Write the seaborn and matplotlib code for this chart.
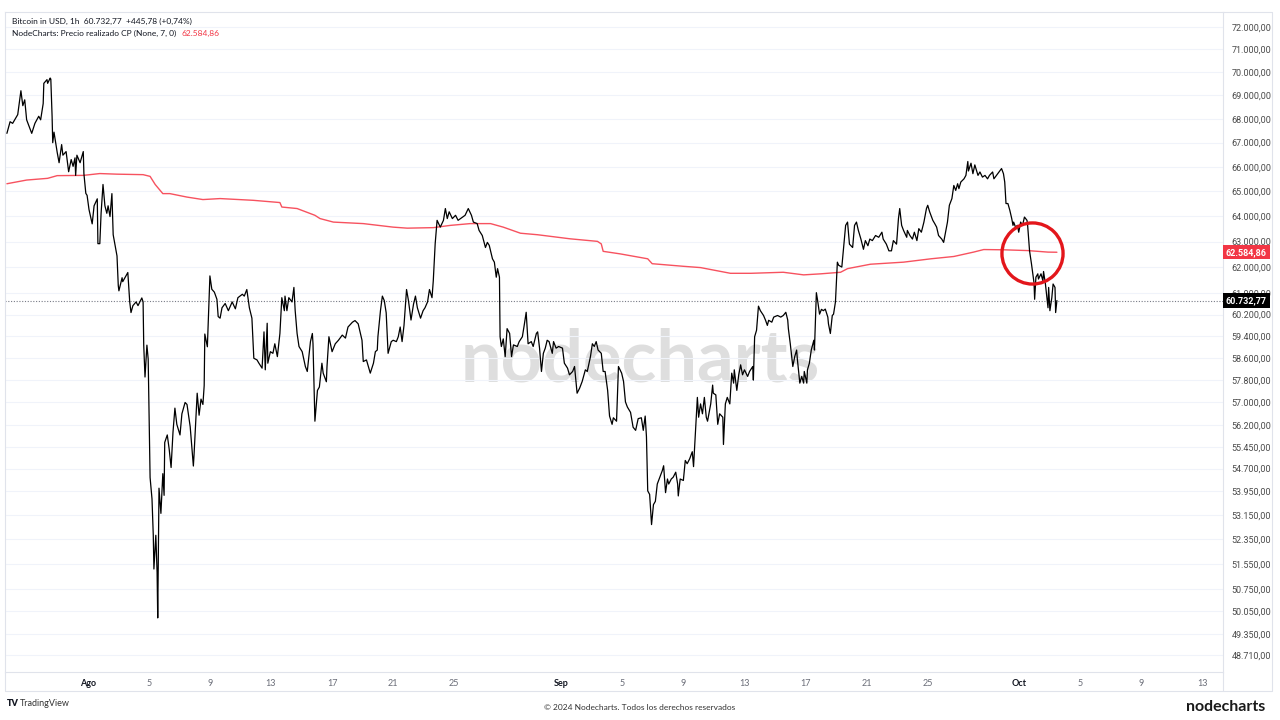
import pandas as pd
import matplotlib
matplotlib.use("Agg")
import matplotlib.pyplot as plt
import matplotlib.transforms as mtransforms
from matplotlib.lines import Line2D
from matplotlib.ticker import FixedLocator, NullLocator, FuncFormatter
import seaborn as sns

# ================================
# DATA (BTC/USD 1h)
# ================================
start = pd.Timestamp("2024-07-26 17:00")

btc_hours = [
    0, 5, 9, 17, 22, 25, 28, 31, 39, 44,
    50, 53, 57, 58, 63, 64, 68, 69, 71, 72,
    74, 79, 82, 86, 88, 93, 96, 97, 101, 104,
    107, 108, 110, 115, 120, 121, 124, 126, 129, 134,
    137, 142, 143, 146, 148, 151, 154, 157, 159, 162,
    165, 167, 173, 175, 176, 181, 182, 190, 193, 195,
    198, 203, 206, 212, 214, 215, 217, 220, 222, 225,
    228, 230, 231, 234, 236, 237, 239, 242, 245, 247,
    248, 252, 255, 258, 261, 264, 267, 272, 275, 280,
    283, 288, 293, 294, 299, 302, 305, 308, 310, 311,
    315, 319, 322, 326, 330, 332, 335, 338, 343, 348,
    354, 359, 363, 370, 373, 377, 381, 385, 388, 393,
    396, 401, 404, 406, 409, 410, 414, 418, 421, 425,
    429, 432, 436, 437, 440, 443, 448, 451, 453, 456,
    459, 464, 469, 472, 477, 480, 481, 484, 488, 491,
    495, 497, 502, 503, 506, 511, 516, 521, 527, 532,
    536, 543, 547, 552, 558, 560, 565, 568, 571, 576,
    579, 582, 583, 587, 590, 593, 596, 599, 604, 607,
    612, 615, 618, 621, 624, 628, 631, 635, 639, 642,
    645, 650, 654, 657, 661, 664, 668, 670, 673, 676,
    681, 686, 689, 692, 695, 700, 705, 709, 716, 720,
    725, 730, 733, 739, 742, 747, 752, 755, 758, 763,
    766, 769, 771, 774, 775, 777, 780, 783, 786, 790,
    793, 796, 802, 805, 810, 813, 816, 819, 824, 827,
    832, 834, 837, 840, 843, 846, 849, 852, 857, 859,
    863, 867, 873, 876, 881, 884, 889, 892, 896, 900,
    904, 909, 912, 917, 920, 923, 926, 929, 934, 937,
    940, 944, 947, 951, 953, 958, 961, 966, 969, 972,
    975, 980, 984, 988, 992, 997, 1000, 1003, 1005, 1007,
    1010, 1013, 1016, 1019, 1022, 1025, 1030, 1032, 1035, 1038,
    1040, 1044, 1047, 1051, 1054, 1055, 1058, 1063, 1066, 1069,
    1073, 1077, 1079, 1082, 1085, 1087, 1090, 1093, 1096, 1099,
    1101, 1106, 1109, 1110, 1114, 1117, 1120, 1125, 1126, 1129,
    1132, 1136, 1139, 1142, 1143, 1147, 1150, 1153, 1156, 1159,
    1164, 1167, 1172, 1173, 1175, 1178, 1181, 1184, 1189, 1192,
    1195, 1197, 1202, 1205, 1211, 1216, 1220, 1224, 1227, 1228,
    1231, 1235, 1238, 1241, 1242, 1246, 1249, 1252, 1253, 1257,
    1258, 1261, 1264, 1268, 1269, 1272, 1274, 1277, 1280, 1283,
    1286, 1290, 1291, 1294, 1297, 1299, 1302, 1305, 1307, 1312,
    1315, 1318, 1321, 1324, 1329, 1332, 1335, 1338, 1342, 1346,
    1349, 1353, 1356, 1360, 1365, 1370, 1375, 1377, 1382, 1386,
    1390, 1393, 1398, 1401, 1403, 1406, 1409, 1414, 1415, 1419,
    1423, 1426, 1430, 1433, 1437, 1441, 1445, 1447, 1450, 1455,
    1458, 1461, 1464, 1469, 1472, 1475, 1478, 1481, 1485, 1488,
    1491, 1494, 1496, 1499, 1504, 1507, 1510, 1511, 1515, 1518,
    1521, 1526, 1529, 1533, 1537, 1541, 1544, 1549, 1551, 1555,
    1559, 1563, 1566, 1568, 1570, 1573, 1576, 1579, 1581, 1582,
    1585, 1588, 1590, 1593, 1596, 1599, 1603, 1604, 1607, 1610,
    1614, 1615, 1617, 1620, 1621, 1625, 1628, 1629, 1632, 1636,
    1637, 1639, 1642, 1644, 1647, 1648, 1650,
]

btc_price = [
    67390, 67880, 67810, 68180, 69200, 68560, 68810, 67960, 67390, 67810,
    68110, 67960, 68650, 69520, 69680, 69520, 69750, 69700, 68110, 67000,
    67440, 66600, 66170, 66920, 66480, 66630, 66020, 65800, 66300, 66020,
    66370, 65650, 66480, 66170, 66630, 65720, 64920, 64840, 64270, 63700,
    64420, 64700, 62920, 62920, 64120, 65280, 64420, 64120, 64420, 63990,
    64910, 63270, 62440, 61300, 61100, 61600, 61450, 61800, 60680, 60280,
    60540, 60680, 60540, 60830, 60680, 59070, 57910, 59070, 58560, 54400,
    53680, 52480, 51390, 52480, 51290, 49850, 54040, 53200, 54530, 53800,
    55600, 55860, 55370, 54740, 55960, 56800, 56230, 55860, 56600, 57000,
    56930, 56150, 54790, 55150, 57330, 56550, 57120, 56930, 57600, 59480,
    59010, 61670, 61160, 61050, 60780, 60130, 60070, 60460, 60620, 60350,
    60680, 60420, 60840, 60970, 60900, 61150, 60460, 60070, 58590, 58530,
    58410, 58230, 59560, 58170, 59880, 58410, 58830, 58770, 59120, 58650,
    59500, 60840, 60350, 60900, 60350, 60840, 60680, 61230, 60350, 59500,
    59020, 58830, 58290, 58110, 59200, 59500, 59120, 56340, 57430, 57550,
    58410, 58050, 57740, 58290, 59380, 58830, 59120, 59250, 59440, 59330,
    59740, 59920, 59980, 59860, 59250, 58470, 58530, 58290, 58050, 58410,
    58830, 58890, 59380, 60350, 60900, 60730, 60270, 58770, 59200, 59250,
    59200, 59380, 59740, 59200, 59800, 61150, 60730, 60000, 60600, 60900,
    60460, 60070, 60350, 60460, 60680, 61150, 60840, 61480, 62920, 63840,
    63570, 63840, 64310, 63910, 64180, 63910, 64040, 63840, 63970, 64040,
    64310, 64040, 63770, 63710, 63440, 63240, 62770, 62970, 62850, 62330,
    62200, 61620, 61950, 61620, 59380, 59020, 59300, 58650, 59680, 59500,
    58650, 59080, 59020, 59200, 59380, 59820, 60290, 59120, 59200, 59020,
    59500, 59560, 58960, 58110, 58770, 58960, 59250, 59200, 58770, 59200,
    58960, 59020, 58960, 58410, 58230, 57990, 58110, 58290, 57330, 57510,
    57750, 58170, 58110, 58650, 59120, 59020, 59200, 58890, 58770, 58110,
    58110, 57430, 56520, 56230, 56460, 56340, 58290, 58050, 57750, 57020,
    56840, 56650, 56130, 56020, 56430, 56460, 56020, 56520, 55800, 53950,
    53830, 52830, 53490, 53600, 54180, 54350, 54640, 54800, 53890, 54350,
    54180, 54350, 54410, 54580, 54180, 53780, 54350, 54300, 54980, 54870,
    55040, 55280, 54770, 55980, 57180, 56480, 56950, 56600, 57180, 56480,
    56340, 56950, 57620, 57330, 57270, 56230, 56600, 56480, 55530, 56950,
    57180, 56950, 58050, 57690, 58170, 57430, 57990, 58350, 57990, 58170,
    57930, 58110, 58290, 57800, 59380, 59620, 60520, 60350, 60170, 60000,
    59800, 59990, 59920, 60110, 60170, 60110, 60170, 60290, 60000, 59680,
    59120, 58290, 58650, 58890, 58590, 57690, 57930, 57690, 58110, 57690,
    58170, 58410, 58890, 59250, 58890, 61030, 60730, 60220, 60400, 60350,
    60410, 60110, 59860, 59500, 60170, 60220, 60680, 62200, 62080, 62010,
    62840, 63640, 63770, 62900, 62770, 63640, 63770, 63440, 63100, 62700,
    63040, 62840, 63100, 63040, 63240, 63170, 63370, 63100, 62900, 62640,
    62640, 63040, 62900, 63910, 64310, 63640, 63440, 63170, 63440, 63240,
    63100, 63370, 63040, 63510, 63370, 63770, 64310, 64440, 64180, 63840,
    63710, 63570, 63240, 63100, 62970, 63370, 63770, 64440, 64710, 65240,
    65040, 65310, 65110, 65380, 65510, 65650, 66220, 65830, 66150, 65720,
    66080, 65650, 65790, 65580, 65650, 65510, 65650, 65790, 65510, 65650,
    65790, 65930, 65720, 65380, 64510, 64510, 64240, 63910, 63640, 63770,
    63570, 63640, 63370, 63770, 63640, 63970, 63840, 63640, 62640, 62140,
    61410, 60780, 61620, 61750, 61550, 61750, 61480, 61840, 61350, 60460,
    61230, 60350, 60840, 61360, 61230, 60280, 60732.77,
]

# NodeCharts short-term realized price (red line)
rp_hours = [
    0, 31, 64, 79, 120, 146, 173, 214, 225, 233,
    245, 256, 283, 308, 335, 387, 429, 432, 456, 484,
    492, 513, 560, 607, 629, 670, 697, 728, 760, 780,
    807, 834, 885, 928, 934, 937, 964, 1007, 1014, 1063,
    1090, 1137, 1169, 1220, 1252, 1279, 1310, 1321, 1357, 1409,
    1452, 1488, 1519, 1535, 1566, 1604, 1636, 1650,
]
rp_price = [
    65310, 65460, 65530, 65640, 65650, 65725, 65700, 65680, 65610, 65280,
    64910, 64910, 64770, 64670, 64710, 64640, 64550, 64370, 64310, 64040,
    63910, 63770, 63710, 63570, 63530, 63550, 63640, 63710, 63710, 63570,
    63330, 63270, 63110, 63010, 62910, 62620, 62520, 62330, 62140, 62040,
    61990, 61770, 61770, 61810, 61710, 61750, 61810, 61950, 62120, 62200,
    62330, 62420, 62590, 62690, 62680, 62650, 62590, 62584.86,
]

last_price = 60732.77
last_rp = 62584.86

# red circle marking the cross below the realized price
circle_hour = 1611
circle_price = 62540

price_ticks = [72000, 71000, 70000, 69000, 68000, 67000, 66000, 65000, 64000,
               63000, 62000, 61000, 60200, 59400, 58600, 57800, 57000, 56200,
               55450, 54700, 53950, 53150, 52350, 51550, 50750, 50050, 49350, 48710]

date_ticks = ["2024-08-01", "2024-08-05", "2024-08-09", "2024-08-13", "2024-08-17",
              "2024-08-21", "2024-08-25", "2024-09-01", "2024-09-05", "2024-09-09",
              "2024-09-13", "2024-09-17", "2024-09-21", "2024-09-25", "2024-10-01",
              "2024-10-05", "2024-10-09", "2024-10-13"]
date_labels = ["Ago", "5", "9", "13", "17", "21", "25", "Sep", "5", "9",
               "13", "17", "21", "25", "Oct", "5", "9", "13"]
month_labels = ["Ago", "Sep", "Oct"]

assert len(btc_hours) == len(btc_price)
assert len(rp_hours) == len(rp_price)

btc = pd.DataFrame({"time": start + pd.to_timedelta(btc_hours, unit="h"), "price": btc_price})
rp = pd.DataFrame({"time": start + pd.to_timedelta(rp_hours, unit="h"), "price": rp_price})


def eu(v, pos=None):
    s = f"{v:,.2f}"
    return s.replace(",", "X").replace(".", ",").replace("X", ".")


# ================================
# PLOT
# ================================
sns.set_theme(style="white")
plt.rcParams["font.family"] = ["Lato", "DejaVu Sans"]

W, H = 1280, 720
fig = plt.figure(figsize=(12.8, 7.2), dpi=100)
ax = fig.add_axes([5 / W, 1 - 672 / H, (1223 - 5) / W, (672 - 12) / H])

# watermark
ax.text((640 - 5) / 1218, (672 - 381) / 660, "nodecharts", transform=ax.transAxes,
        ha="center", va="baseline", fontsize=52, fontweight="bold",
        color="#dedede", zorder=0)

sns.lineplot(data=rp, x="time", y="price", ax=ax, color="#f7525f", lw=1.0,
             estimator=None, sort=False, zorder=3)
sns.lineplot(data=btc, x="time", y="price", ax=ax, color="#000000", lw=0.9,
             estimator=None, sort=False, zorder=4)

ax.axhline(last_price, color="#787b86", lw=0.8, ls=(0, (1, 1.5)), zorder=2)

ax.plot([start + pd.Timedelta(hours=circle_hour)], [circle_price], marker="o", ms=44,
        mfc="none", mec="#e3161b", mew=2.4, zorder=6)

ax.set_yscale("log")
ax.set_ylim(48200, 72675)
ax.set_xlim(start - pd.Timedelta(hours=3), start + pd.Timedelta(hours=1911))

ax.yaxis.set_major_locator(FixedLocator(price_ticks))
ax.yaxis.set_minor_locator(NullLocator())
ax.yaxis.set_major_formatter(FuncFormatter(eu))
ax.yaxis.tick_right()
ax.tick_params(axis="y", length=0, pad=6, labelsize=6.5, labelcolor="#4a4a4a",
               labelfontfamily="Roboto")

ax.set_xticks(pd.to_datetime(date_ticks))
ax.set_xticklabels(date_labels)
ax.tick_params(axis="x", length=0, pad=5, labelsize=6.5, labelcolor="#6a6d78")
for lab in ax.get_xticklabels():
    if lab.get_text() in month_labels:
        lab.set_fontweight("bold")
        lab.set_color("#131722")

ax.set_xlabel("")
ax.set_ylabel("")
ax.yaxis.grid(True, color="#f0f3fa", lw=0.8)
ax.xaxis.grid(False)
for sp in ax.spines.values():
    sp.set_color("#e0e3eb")
    sp.set_linewidth(0.8)

# price badges on the scale
trans = mtransforms.blended_transform_factory(ax.transAxes, ax.transData)
ax.text(1.0 + 3 / 1218, last_rp, eu(last_rp), transform=trans, ha="left", va="center",
        color="white", fontsize=6.5, fontweight="bold", family="Roboto",
        bbox=dict(boxstyle="square,pad=0.3", fc="#f23645", ec="none"),
        clip_on=False, zorder=10)
ax.text(1.0 + 3 / 1218, last_price, eu(last_price), transform=trans, ha="left", va="center",
        color="white", fontsize=6.5, fontweight="bold", family="Roboto",
        bbox=dict(boxstyle="square,pad=0.3", fc="#000000", ec="none"),
        clip_on=False, zorder=10)

# outer frame of price / date scales
frame = dict(color="#e0e3eb", lw=0.8)
fig.add_artist(Line2D([1272 / W, 1272 / W], [1 - 12 / H, 1 - 691 / H], **frame))
fig.add_artist(Line2D([1223 / W, 1272 / W], [1 - 12 / H, 1 - 12 / H], **frame))
fig.add_artist(Line2D([5 / W, 1272 / W], [1 - 691 / H, 1 - 691 / H], **frame))
fig.add_artist(Line2D([5 / W, 5 / W], [1 - 672 / H, 1 - 691 / H], **frame))
fig.add_artist(Line2D([1223 / W, 1223 / W], [1 - 672 / H, 1 - 691 / H], **frame))

# legend header
fig.text(12 / W, 1 - 21 / H, "Bitcoin in USD, 1h  60.732,77  +445,78 (+0,74%)",
         fontsize=6, color="#131722", va="center")
ind = fig.text(12 / W, 1 - 33 / H, "NodeCharts: Precio realizado CP (None, 7, 0)",
               fontsize=6, color="#131722", va="center")
fig.get_children()  # keep artists registered
ax.annotate(eu(last_rp), xy=(1, 0.5), xycoords=ind, xytext=(4, 0),
            textcoords="offset points", fontsize=6, color="#f23645",
            ha="left", va="center", annotation_clip=False)

# footer
fig.text(7 / W, 1 - 703 / H, "TV", fontsize=6.5, fontweight="heavy", color="#131722", va="center")
fig.text(20 / W, 1 - 703 / H, "TradingView", fontsize=6.5, color="#333333", va="center")
fig.text(640 / W, 1 - 707 / H, "© 2024 Nodecharts. Todos los derechos reservados",
         fontsize=6, color="#333333", ha="center", va="center")
fig.text(1265 / W, 1 - 707 / H, "nodecharts", fontsize=11.5, fontweight="bold",
         color="#1a1a1a", ha="right", va="center")

fig.savefig("out.png", dpi=100)
